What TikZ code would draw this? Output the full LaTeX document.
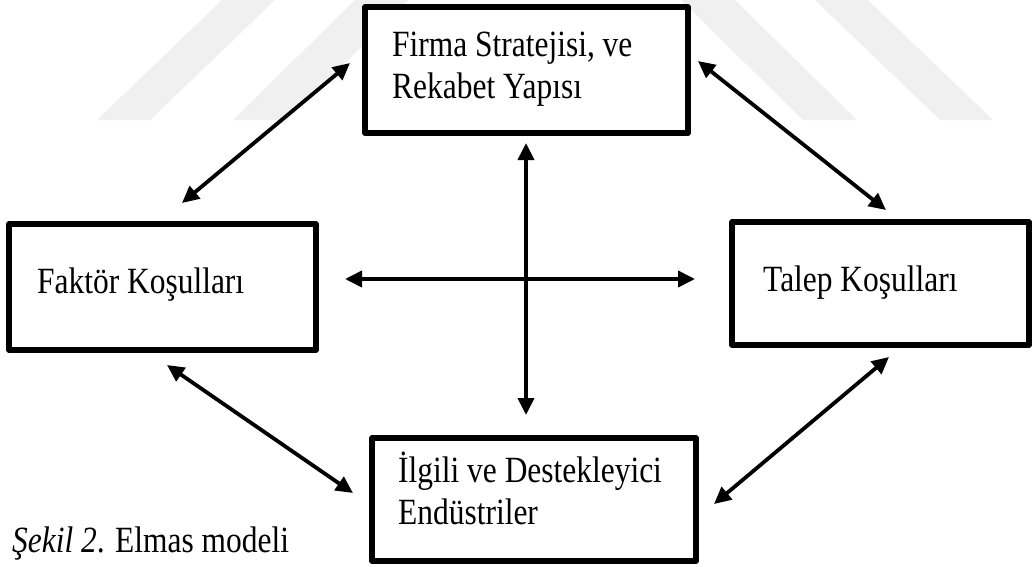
\documentclass[tikz,border=0pt]{standalone}
\usepackage{fontspec}
\setmainfont[FakeStretch=0.85]{Liberation Serif}
\usetikzlibrary{arrows.meta}
\begin{document}
\begin{tikzpicture}[x=1pt, y=-1pt,
  box/.style={draw=black, fill=white, line width=5.5pt, line join=round,
    rectangle, inner sep=0pt},
  txt/.style={anchor=base west, align=left, inner sep=0pt,
    font=\fontsize{37}{42}\selectfont},
  link/.style={line width=3.8pt, {Triangle[length=17pt,width=16pt]}-{Triangle[length=17pt,width=16pt]}},
  stripe/.style={fill=black!6, draw=none}]
\useasboundingbox (0,0) rectangle (1034,566);

% faint background stripes
\fill[stripe] (97,120) -- (150,120) -- (275,0) -- (222,0) -- cycle;
\fill[stripe] (233,120) -- (287,120) -- (409,0) -- (355,0) -- cycle;
\fill[stripe] (803,120) -- (857,120) -- (735,0) -- (681,0) -- cycle;
\fill[stripe] (940,120) -- (993,120) -- (868,0) -- (815,0) -- cycle;

% the four boxes of the diamond
\node[box, minimum width=323pt, minimum height=126pt] (fs) at (526.5,70) {};
\node[box, minimum width=307pt, minimum height=126pt] (fk) at (162.5,287) {};
\node[box, minimum width=297pt, minimum height=123pt] (tk) at (880.5,283.5) {};
\node[box, minimum width=324pt, minimum height=123pt] (id) at (534,499.5) {};

% box labels
\node[txt] (fsT) at (392,98) {Firma Stratejisi, ve\\Rekabet Yapısı};
\node[txt] (fkT) at (37,293) {Faktör Koşulları};
\node[txt] (tkT) at (763,291) {Talep Koşulları};
\node[txt] (idT) at (398,524) {İlgili ve Destekleyici\\Endüstriler};

% caption
\node[txt] (cap) at (12,552) {\textit{Şekil 2}. Elmas modeli};

% arrow end points
\coordinate (p1) at (182,203);
\coordinate (p2) at (350,63);
\coordinate (p3) at (698,61);
\coordinate (p4) at (886,210);
\coordinate (p5) at (526,143);
\coordinate (p6) at (526,415);
\coordinate (p7) at (345,279);
\coordinate (p8) at (695,279);
\coordinate (p9) at (167,365);
\coordinate (p10) at (353,493);
\coordinate (p11) at (889,357);
\coordinate (p12) at (714,504);

% two-way influences
\draw[link] (p1) -- (p2);
\draw[link] (p3) -- (p4);
\draw[link] (p5) -- (p6);
\draw[link] (p7) -- (p8);
\draw[link] (p9) -- (p10);
\draw[link] (p11) -- (p12);
\end{tikzpicture}
\end{document}
